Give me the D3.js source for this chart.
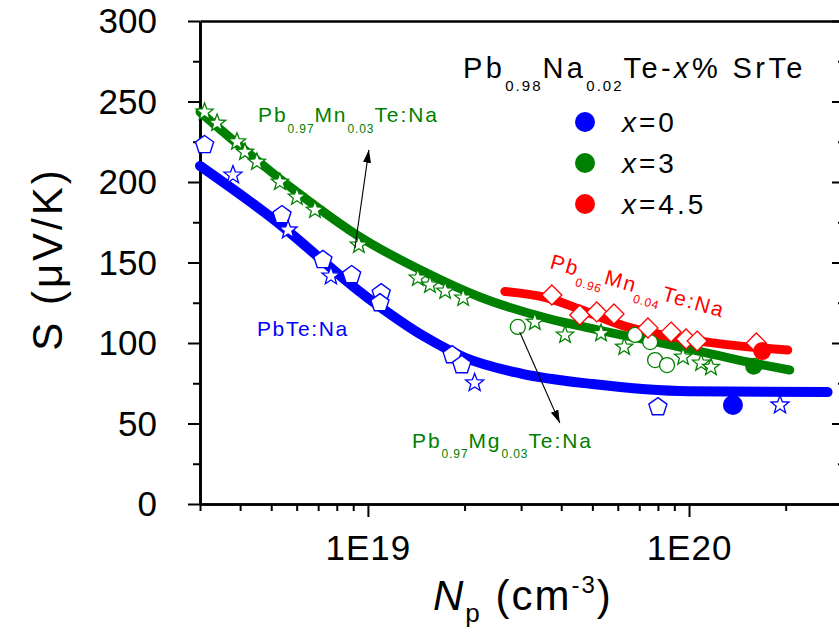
<!DOCTYPE html>
<html>
<head>
<meta charset="utf-8">
<script src="https://cdn.jsdelivr.net/npm/d3@7"></script>
<style>
  body { margin: 0; background: #fff; }
  svg { display: block; }
  text { font-family: "Liberation Sans", Arial, Helvetica, sans-serif; }
</style>
</head>
<body>
<svg id="chart" width="839" height="639"></svg>
<script>
// ---------- axis ticks ----------
const yMajorTicks = [0, 50, 100, 150, 200, 250, 300];
const yMinorTicks = [25, 75, 125, 175, 225, 275];
const xMajorTicks = [1e19, 1e20];
const xTickLabels = ["1E19", "1E20"];

// ---------- model curves (carrier density cm^-3, Seebeck uV/K) ----------
const fitPbTeN = [3.0e18, 5.0e18, 1.0e19, 1.5e19, 2.0e19, 3.0e19, 5.0e19, 1.0e20, 2.7e20];
const fitPbTeS = [210, 178, 128, 104, 91, 81, 74.5, 70, 69.5];

const fitMn3N = [3.0e18, 5.9e18, 9.6e18, 1.47e19, 2.23e19, 3.6e19, 4.57e19, 9.38e19, 1.58e20, 2.06e20];
const fitMn3S = [243.5, 195, 165, 145, 128.6, 115.5, 110.6, 97.5, 87.6, 83.2];

const fitMn4N = [2.67e19, 3.61e19, 4.57e19, 6.42e19, 9.38e19, 1.31e20, 2.03e20];
const fitMn4S = [132, 128, 121, 110, 103, 99, 95.6];

// ---------- reference samples ----------
// PbTe:Na (pentagons)
const pbtePentN = [3.1e18, 5.4e18, 7.24e18, 8.9e18, 1.10e19, 1.09e19, 1.83e19, 1.96e19, 8.0e19];
const pbtePentS = [223, 179.5, 151.6, 142.2, 131, 124.8, 92.5, 86.3, 60.2];
// PbTe:Na (stars)
const pbteStarN = [3.8e18, 5.64e18, 7.67e18, 2.15e19, 1.92e20];
const pbteStarS = [204.3, 170.2, 141.6, 75.2, 61.5];
// Pb0.97Mn0.03Te:Na (stars)
const mn3StarN = [3.10e18, 3.39e18, 3.91e18, 4.14e18, 4.51e18, 5.32e18, 6.01e18, 6.84e18, 9.37e18,
                  1.43e19, 1.56e19, 1.74e19, 1.98e19, 3.31e19, 4.11e19, 5.32e19, 6.28e19, 9.58e19, 1.09e20, 1.17e20];
const mn3StarS = [243.5, 236.6, 225, 218.6, 212.4, 200, 190.7, 182.6, 160.9,
                  140.4, 136, 132.3, 128, 113, 105, 106, 97.5, 91.3, 87.6, 85];
// Pb0.97Mg0.03Te:Na (open circles)
const mg3CircN = [2.93e19, 6.79e19, 7.57e19, 7.84e19, 8.54e19];
const mg3CircS = [110, 105, 100.6, 89.4, 86.3];
// Pb0.96Mn0.04Te:Na (diamonds)
const mn4DiamN = [3.74e19, 4.57e19, 5.16e19, 5.84e19, 7.45e19, 8.79e19, 9.79e19, 1.06e20, 1.62e20];
const mn4DiamS = [129.8, 117.4, 119.3, 118, 109.3, 106.8, 102.5, 101.2, 100];

// ---------- Pb0.98Na0.02Te-x% SrTe ----------
const srteLegend = ["0", "3", "4.5"];
const srteN = [1.37e20, 1.59e20, 1.69e20];
const srteS = [61.5, 85.5, 95];

// ---------- colours ----------
const BLUE = "#0000ff", GREEN = "#008000", RED = "#ff0000";
const srteColors = [BLUE, GREEN, RED];

// ---------- scales ----------
const svg = d3.select("#chart");
const x = d3.scaleLog().domain([3e18, 3.06e20]).range([200, 845]);
const y = d3.scaleLinear().domain([0, 300]).range([504, 21]);

// ---------- marker shapes (size = radius in px) ----------
const pentagon = { draw(ctx, r) {
  for (let i = 0; i < 5; i++) {
    const a = -Math.PI / 2 + i * 2 * Math.PI / 5;
    const px = r * Math.cos(a), py = r * Math.sin(a);
    i ? ctx.lineTo(px, py) : ctx.moveTo(px, py);
  }
  ctx.closePath();
}};
const star = { draw(ctx, r) {
  const ri = r * 0.42;
  for (let i = 0; i < 10; i++) {
    const rr = i % 2 ? ri : r;
    const a = -Math.PI / 2 + i * Math.PI / 5;
    const px = rr * Math.cos(a), py = rr * Math.sin(a);
    i ? ctx.lineTo(px, py) : ctx.moveTo(px, py);
  }
  ctx.closePath();
}};
const diamond = { draw(ctx, r) {
  ctx.moveTo(0, -r); ctx.lineTo(r, 0); ctx.lineTo(0, r); ctx.lineTo(-r, 0); ctx.closePath();
}};
const circle = { draw(ctx, r) { ctx.moveTo(r, 0); ctx.arc(0, 0, r, 0, 2 * Math.PI); } };

// ---------- axes ----------
const axisStyle = g => {
  g.select(".domain").attr("stroke", "#000").attr("stroke-width", 2.6);
  g.selectAll(".tick line").attr("stroke", "#000").attr("stroke-width", 2);
  g.selectAll("text").attr("fill", "#000").style("font-family", "'Liberation Sans', Arial, sans-serif");
};

const xMinor = x.ticks().filter(v => !xMajorTicks.some(m => Math.abs(m - v) / m < 1e-6));

// left
svg.append("g").attr("transform", "translate(200,0)")
  .call(d3.axisLeft(y).tickValues(yMinorTicks).tickSize(7).tickSizeOuter(0).tickFormat(""))
  .call(axisStyle);
svg.append("g").attr("transform", "translate(200,0)")
  .call(d3.axisLeft(y).tickValues(yMajorTicks).tickSize(12).tickSizeOuter(0).tickPadding(31))
  .call(axisStyle)
  .call(g => g.selectAll("text").attr("font-size", 35).attr("dy", "0.34em"));
// right (ticks inward)
svg.append("g").attr("transform", "translate(845,0)")
  .call(d3.axisRight(y).tickValues(yMinorTicks).tickSize(-7).tickSizeOuter(0).tickFormat(""))
  .call(axisStyle);
svg.append("g").attr("transform", "translate(845,0)")
  .call(d3.axisRight(y).tickValues(yMajorTicks).tickSize(-13).tickSizeOuter(0).tickFormat(""))
  .call(axisStyle);
// bottom
svg.append("g").attr("transform", "translate(0,504)")
  .call(d3.axisBottom(x).tickValues(xMinor).tickSize(7).tickSizeOuter(0).tickFormat(""))
  .call(axisStyle);
svg.append("g").attr("transform", "translate(0,504)")
  .call(d3.axisBottom(x).tickValues(xMajorTicks).tickSize(13).tickSizeOuter(0)
        .tickFormat((d, i) => xTickLabels[i]))
  .call(axisStyle)
  .call(g => g.selectAll("text").attr("font-size", 35).attr("y", 56).attr("dy", 0)
               .attr("letter-spacing", 1));
// top (frame line)
svg.append("g").attr("transform", "translate(0,21)")
  .call(d3.axisTop(x).tickValues([]).tickSizeOuter(0))
  .call(axisStyle);

// ---------- curves ----------
const curve = d3.line().x(d => x(d[0])).y(d => y(d[1])).curve(d3.curveMonotoneX);
const fits = [
  [fitPbTeN, fitPbTeS, BLUE, 10],
  [fitMn3N, fitMn3S, GREEN, 9],
  [fitMn4N, fitMn4S, RED, 9]
];
fits.forEach(([N, S, c, w]) => {
  svg.append("path").datum(N.map((n, i) => [n, S[i]]))
    .attr("d", curve).attr("fill", "none").attr("stroke", c)
    .attr("stroke-width", w).attr("stroke-linecap", "round").attr("stroke-linejoin", "round");
});

// ---------- open markers ----------
function markers(N, S, shape, r, color, sw) {
  svg.append("g").selectAll("path").data(N.map((n, i) => [n, S[i]])).join("path")
    .attr("transform", d => `translate(${x(d[0])},${y(d[1])})`)
    .attr("d", d3.symbol().type(shape).size(r))
    .attr("fill", "#fff").attr("stroke", color).attr("stroke-width", sw);
}
markers(pbtePentN, pbtePentS, pentagon, 9.5, BLUE, 1.4);
markers(pbteStarN, pbteStarS, star, 9.5, BLUE, 1.3);
markers(mn3StarN, mn3StarS, star, 9, GREEN, 1.3);
markers(mg3CircN, mg3CircS, circle, 7.5, GREEN, 1.3);
markers(mn4DiamN, mn4DiamS, diamond, 10, RED, 1.3);

// ---------- SrTe samples ----------
const srteR = [10, 8.5, 9];
svg.append("g").selectAll("circle").data(srteN).join("circle")
  .attr("cx", d => x(d)).attr("cy", (d, i) => y(srteS[i]))
  .attr("r", (d, i) => srteR[i]).attr("fill", (d, i) => srteColors[i]);

// ---------- rich text helper ----------
function richText(parent, parts, opt) {
  const t = parent.append("text")
    .attr("x", opt.x || 0).attr("y", opt.y || 0)
    .attr("font-size", opt.size).attr("fill", opt.color || "#000")
    .attr("letter-spacing", opt.ls || 0)
    .attr("text-anchor", opt.anchor || "start");
  if (opt.transform) t.attr("transform", opt.transform);
  let shift = 0;
  parts.forEach(p => {
    const s = t.append("tspan").text(p.t);
    let target = 0;
    if (p.sub) target = p.sub;
    if (p.sup) target = -p.sup;
    s.attr("dy", target - shift);
    shift = target;
    if (p.size) s.attr("font-size", p.size);
    if (p.ls !== undefined) s.attr("letter-spacing", p.ls);
    if (p.italic) s.attr("font-style", "italic");
  });
  return t;
}

// ---------- annotations ----------
const defs = svg.append("defs");
defs.append("marker").attr("id", "arrowhead")
  .attr("markerUnits", "userSpaceOnUse").attr("markerWidth", 14).attr("markerHeight", 10)
  .attr("refX", 13).attr("refY", 4).attr("orient", "auto")
  .append("path").attr("d", "M0,0 L13,4 L0,8 Z").attr("fill", "#000");

const arrows = [
  { from: [9.11e18, 159], to: [1.007e19, 220] },
  { from: [2.97e19, 106.8], to: [3.96e19, 50.3] }
];
arrows.forEach(a => {
  svg.append("line")
    .attr("x1", x(a.from[0])).attr("y1", y(a.from[1]))
    .attr("x2", x(a.to[0])).attr("y2", y(a.to[1]))
    .attr("stroke", "#000").attr("stroke-width", 1.1)
    .attr("marker-end", "url(#arrowhead)");
});

const subA = { size: 12, ls: 0.9 };
richText(svg, [
  { t: "Pb" }, { t: "0.97", sub: 11, ...subA }, { t: "Mn" }, { t: "0.03", sub: 11, ...subA }, { t: "Te:Na" }
], { x: 258, y: 122, size: 21, ls: 1.9, color: GREEN });

richText(svg, [{ t: "PbTe:Na" }], { x: 257, y: 336, size: 21, ls: 1.6, color: BLUE });

richText(svg, [
  { t: "Pb" }, { t: "0.97", sub: 10, ...subA }, { t: "Mg" }, { t: "0.03", sub: 10, ...subA }, { t: "Te:Na" }
], { x: 412, y: 448, size: 21, ls: 1.9, color: GREEN });

richText(svg, [
  { t: "Pb" }, { t: "0.96", sub: 10, ...subA }, { t: "Mn" }, { t: "0.04", sub: 10, ...subA }, { t: "Te:Na" }
], { size: 21, ls: 1.9, color: RED, transform: "translate(549,268) rotate(16)" });

// ---------- legend ----------
richText(svg, [
  { t: "Pb" }, { t: "0.98", sub: 13, size: 15, ls: 2 }, { t: "Na" }, { t: "0.02", sub: 13, size: 15, ls: 2 },
  { t: "Te-" }, { t: "x", italic: true }, { t: "% SrTe" }
], { x: 463, y: 78, size: 29, ls: 3.4 });

const legendRow = [122, 163, 204];
srteLegend.forEach((v, i) => {
  svg.append("circle").attr("cx", 585).attr("cy", legendRow[i]).attr("r", 10).attr("fill", srteColors[i]);
  richText(svg, [{ t: "x", italic: true }, { t: "=" + v }],
    { x: 622, y: legendRow[i] + 10, size: 28, ls: 3 });
});

// ---------- axis titles ----------
richText(svg, [
  { t: "N", italic: true }, { t: "p", sub: 12, size: 26 }, { t: " (cm" },
  { t: "-3", sup: 17, size: 24 }, { t: ")" }
], { x: 433, y: 610, size: 42, ls: 2 });

richText(svg, [{ t: "S (μV/K)" }],
  { size: 42, ls: 3, anchor: "middle", transform: "translate(62,259) rotate(-90)" });
</script>
</body>
</html>
